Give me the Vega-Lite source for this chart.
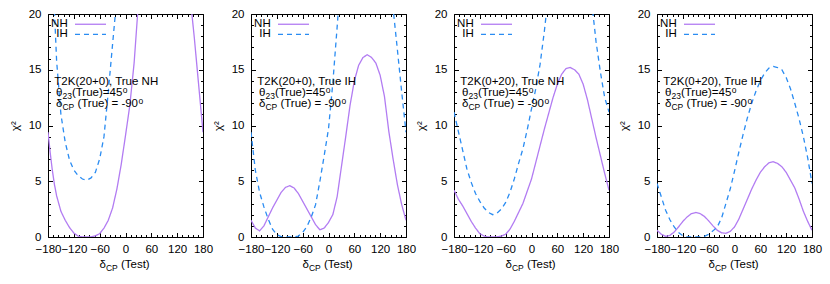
{"$schema":"https://vega.github.io/schema/vega-lite/v6.json","padding":{"left":8,"top":7,"right":5,"bottom":5},"spacing":48,"bounds":"flush",
"config":{"view":{"stroke":"#000","strokeWidth":1},"axis":{"grid":false,"domain":false,"tickColor":"#000","tickWidth":1,"labelColor":"#000","labelFont":"Liberation Sans","labelFontSize":11.5,"titleFont":"Liberation Sans","titleFontSize":11.5,"titleFontWeight":"normal","titleColor":"#000"},"text":{"font":"Liberation Sans","fontSize":11.5,"color":"#000"}},
"datasets":{"curves":[
{"panel":1,"series":"NH","delta":-180,"chi2":9.4},{"panel":1,"series":"NH","delta":-175,"chi2":7.6},{"panel":1,"series":"NH","delta":-170,"chi2":6.0},{"panel":1,"series":"NH","delta":-165,"chi2":4.7},{"panel":1,"series":"NH","delta":-160,"chi2":3.7},{"panel":1,"series":"NH","delta":-150,"chi2":2.3},{"panel":1,"series":"NH","delta":-140,"chi2":1.5},{"panel":1,"series":"NH","delta":-130,"chi2":0.85},{"panel":1,"series":"NH","delta":-120,"chi2":0.35},{"panel":1,"series":"NH","delta":-110,"chi2":0.08},{"panel":1,"series":"NH","delta":-100,"chi2":0},{"panel":1,"series":"NH","delta":-90,"chi2":0},{"panel":1,"series":"NH","delta":-80,"chi2":0.02},{"panel":1,"series":"NH","delta":-70,"chi2":0.1},{"panel":1,"series":"NH","delta":-60,"chi2":0.3},{"panel":1,"series":"NH","delta":-50,"chi2":0.8},{"panel":1,"series":"NH","delta":-40,"chi2":1.5},{"panel":1,"series":"NH","delta":-30,"chi2":2.6},{"panel":1,"series":"NH","delta":-20,"chi2":4.3},{"panel":1,"series":"NH","delta":-10,"chi2":6.5},{"panel":1,"series":"NH","delta":0,"chi2":9.1},{"panel":1,"series":"NH","delta":10,"chi2":11.8},{"panel":1,"series":"NH","delta":20,"chi2":15.6},{"panel":1,"series":"NH","delta":30,"chi2":21},{"panel":1,"series":"NH","delta":40,"chi2":26},{"panel":1,"series":"NH","delta":60,"chi2":33},{"panel":1,"series":"NH","delta":90,"chi2":38},{"panel":1,"series":"NH","delta":120,"chi2":34},{"panel":1,"series":"NH","delta":140,"chi2":25},{"panel":1,"series":"NH","delta":150,"chi2":21.6},{"panel":1,"series":"NH","delta":160,"chi2":17.8},{"panel":1,"series":"NH","delta":170,"chi2":13.6},{"panel":1,"series":"NH","delta":180,"chi2":9.4},
{"panel":1,"series":"IH","delta":-180,"chi2":34},{"panel":1,"series":"IH","delta":-170,"chi2":24},{"panel":1,"series":"IH","delta":-165,"chi2":20.3},{"panel":1,"series":"IH","delta":-160,"chi2":15.8},{"panel":1,"series":"IH","delta":-150,"chi2":11.0},{"panel":1,"series":"IH","delta":-140,"chi2":8.5},{"panel":1,"series":"IH","delta":-130,"chi2":6.9},{"panel":1,"series":"IH","delta":-120,"chi2":6.0},{"panel":1,"series":"IH","delta":-110,"chi2":5.5},{"panel":1,"series":"IH","delta":-100,"chi2":5.2},{"panel":1,"series":"IH","delta":-90,"chi2":5.1},{"panel":1,"series":"IH","delta":-80,"chi2":5.3},{"panel":1,"series":"IH","delta":-70,"chi2":5.8},{"panel":1,"series":"IH","delta":-60,"chi2":7.0},{"panel":1,"series":"IH","delta":-50,"chi2":9.0},{"panel":1,"series":"IH","delta":-40,"chi2":13.0},{"panel":1,"series":"IH","delta":-30,"chi2":17.3},{"panel":1,"series":"IH","delta":-20,"chi2":21.5},{"panel":1,"series":"IH","delta":-10,"chi2":26},{"panel":1,"series":"IH","delta":0,"chi2":31},{"panel":1,"series":"IH","delta":60,"chi2":45},{"panel":1,"series":"IH","delta":120,"chi2":45},{"panel":1,"series":"IH","delta":180,"chi2":34},
{"panel":2,"series":"NH","delta":-180,"chi2":1.5},{"panel":2,"series":"NH","delta":-170,"chi2":0.8},{"panel":2,"series":"NH","delta":-160,"chi2":0.55},{"panel":2,"series":"NH","delta":-150,"chi2":1.0},{"panel":2,"series":"NH","delta":-140,"chi2":1.8},{"panel":2,"series":"NH","delta":-130,"chi2":2.6},{"panel":2,"series":"NH","delta":-120,"chi2":3.3},{"panel":2,"series":"NH","delta":-110,"chi2":4.0},{"panel":2,"series":"NH","delta":-100,"chi2":4.45},{"panel":2,"series":"NH","delta":-90,"chi2":4.6},{"panel":2,"series":"NH","delta":-80,"chi2":4.4},{"panel":2,"series":"NH","delta":-70,"chi2":3.9},{"panel":2,"series":"NH","delta":-60,"chi2":3.2},{"panel":2,"series":"NH","delta":-50,"chi2":2.5},{"panel":2,"series":"NH","delta":-40,"chi2":1.8},{"panel":2,"series":"NH","delta":-30,"chi2":1.1},{"panel":2,"series":"NH","delta":-20,"chi2":0.65},{"panel":2,"series":"NH","delta":-10,"chi2":0.8},{"panel":2,"series":"NH","delta":0,"chi2":1.3},{"panel":2,"series":"NH","delta":10,"chi2":2.0},{"panel":2,"series":"NH","delta":20,"chi2":3.6},{"panel":2,"series":"NH","delta":30,"chi2":6.3},{"panel":2,"series":"NH","delta":40,"chi2":9.0},{"panel":2,"series":"NH","delta":50,"chi2":11.8},{"panel":2,"series":"NH","delta":60,"chi2":14.0},{"panel":2,"series":"NH","delta":70,"chi2":15.4},{"panel":2,"series":"NH","delta":80,"chi2":16.1},{"panel":2,"series":"NH","delta":90,"chi2":16.35},{"panel":2,"series":"NH","delta":100,"chi2":16.1},{"panel":2,"series":"NH","delta":110,"chi2":15.6},{"panel":2,"series":"NH","delta":120,"chi2":14.5},{"panel":2,"series":"NH","delta":130,"chi2":12.6},{"panel":2,"series":"NH","delta":140,"chi2":9.5},{"panel":2,"series":"NH","delta":150,"chi2":7.0},{"panel":2,"series":"NH","delta":160,"chi2":4.7},{"panel":2,"series":"NH","delta":170,"chi2":2.9},{"panel":2,"series":"NH","delta":180,"chi2":1.5},
{"panel":2,"series":"IH","delta":-180,"chi2":9.4},{"panel":2,"series":"IH","delta":-170,"chi2":6.0},{"panel":2,"series":"IH","delta":-160,"chi2":4.0},{"panel":2,"series":"IH","delta":-150,"chi2":2.7},{"panel":2,"series":"IH","delta":-140,"chi2":1.6},{"panel":2,"series":"IH","delta":-130,"chi2":0.7},{"panel":2,"series":"IH","delta":-120,"chi2":0.2},{"panel":2,"series":"IH","delta":-110,"chi2":0.03},{"panel":2,"series":"IH","delta":-100,"chi2":0},{"panel":2,"series":"IH","delta":-90,"chi2":0},{"panel":2,"series":"IH","delta":-80,"chi2":0},{"panel":2,"series":"IH","delta":-70,"chi2":0.08},{"panel":2,"series":"IH","delta":-60,"chi2":0.4},{"panel":2,"series":"IH","delta":-50,"chi2":0.95},{"panel":2,"series":"IH","delta":-40,"chi2":1.8},{"panel":2,"series":"IH","delta":-30,"chi2":2.9},{"panel":2,"series":"IH","delta":-20,"chi2":5.0},{"panel":2,"series":"IH","delta":-10,"chi2":7.3},{"panel":2,"series":"IH","delta":0,"chi2":9.7},{"panel":2,"series":"IH","delta":10,"chi2":13.8},{"panel":2,"series":"IH","delta":20,"chi2":18.8},{"panel":2,"series":"IH","delta":30,"chi2":24},{"panel":2,"series":"IH","delta":40,"chi2":30},{"panel":2,"series":"IH","delta":90,"chi2":45},{"panel":2,"series":"IH","delta":140,"chi2":24},{"panel":2,"series":"IH","delta":150,"chi2":20.5},{"panel":2,"series":"IH","delta":160,"chi2":16.8},{"panel":2,"series":"IH","delta":170,"chi2":13.0},{"panel":2,"series":"IH","delta":180,"chi2":9.4},
{"panel":3,"series":"NH","delta":-180,"chi2":4.2},{"panel":3,"series":"NH","delta":-170,"chi2":3.4},{"panel":3,"series":"NH","delta":-160,"chi2":2.8},{"panel":3,"series":"NH","delta":-150,"chi2":2.1},{"panel":3,"series":"NH","delta":-140,"chi2":1.4},{"panel":3,"series":"NH","delta":-130,"chi2":0.8},{"panel":3,"series":"NH","delta":-120,"chi2":0.3},{"panel":3,"series":"NH","delta":-110,"chi2":0.08},{"panel":3,"series":"NH","delta":-100,"chi2":0},{"panel":3,"series":"NH","delta":-90,"chi2":0},{"panel":3,"series":"NH","delta":-80,"chi2":0.02},{"panel":3,"series":"NH","delta":-70,"chi2":0.08},{"panel":3,"series":"NH","delta":-60,"chi2":0.25},{"panel":3,"series":"NH","delta":-50,"chi2":0.7},{"panel":3,"series":"NH","delta":-40,"chi2":1.4},{"panel":3,"series":"NH","delta":-30,"chi2":2.2},{"panel":3,"series":"NH","delta":-20,"chi2":3.0},{"panel":3,"series":"NH","delta":-10,"chi2":4.1},{"panel":3,"series":"NH","delta":0,"chi2":5.2},{"panel":3,"series":"NH","delta":10,"chi2":6.7},{"panel":3,"series":"NH","delta":20,"chi2":8.2},{"panel":3,"series":"NH","delta":30,"chi2":9.7},{"panel":3,"series":"NH","delta":40,"chi2":11.1},{"panel":3,"series":"NH","delta":50,"chi2":12.5},{"panel":3,"series":"NH","delta":60,"chi2":13.7},{"panel":3,"series":"NH","delta":70,"chi2":14.6},{"panel":3,"series":"NH","delta":80,"chi2":15.1},{"panel":3,"series":"NH","delta":90,"chi2":15.2},{"panel":3,"series":"NH","delta":100,"chi2":15.0},{"panel":3,"series":"NH","delta":110,"chi2":14.6},{"panel":3,"series":"NH","delta":120,"chi2":13.7},{"panel":3,"series":"NH","delta":130,"chi2":12.3},{"panel":3,"series":"NH","delta":140,"chi2":10.6},{"panel":3,"series":"NH","delta":150,"chi2":8.9},{"panel":3,"series":"NH","delta":160,"chi2":7.3},{"panel":3,"series":"NH","delta":170,"chi2":5.7},{"panel":3,"series":"NH","delta":180,"chi2":4.2},
{"panel":3,"series":"IH","delta":-180,"chi2":11.2},{"panel":3,"series":"IH","delta":-170,"chi2":9.5},{"panel":3,"series":"IH","delta":-160,"chi2":7.8},{"panel":3,"series":"IH","delta":-150,"chi2":6.1},{"panel":3,"series":"IH","delta":-140,"chi2":4.9},{"panel":3,"series":"IH","delta":-130,"chi2":3.9},{"panel":3,"series":"IH","delta":-120,"chi2":3.2},{"panel":3,"series":"IH","delta":-110,"chi2":2.6},{"panel":3,"series":"IH","delta":-100,"chi2":2.2},{"panel":3,"series":"IH","delta":-90,"chi2":2.0},{"panel":3,"series":"IH","delta":-80,"chi2":2.15},{"panel":3,"series":"IH","delta":-70,"chi2":2.5},{"panel":3,"series":"IH","delta":-60,"chi2":3.1},{"panel":3,"series":"IH","delta":-50,"chi2":4.0},{"panel":3,"series":"IH","delta":-40,"chi2":5.2},{"panel":3,"series":"IH","delta":-30,"chi2":6.6},{"panel":3,"series":"IH","delta":-20,"chi2":7.9},{"panel":3,"series":"IH","delta":-10,"chi2":9.6},{"panel":3,"series":"IH","delta":0,"chi2":11.5},{"panel":3,"series":"IH","delta":10,"chi2":13.3},{"panel":3,"series":"IH","delta":20,"chi2":15.5},{"panel":3,"series":"IH","delta":30,"chi2":18.5},{"panel":3,"series":"IH","delta":40,"chi2":22},{"panel":3,"series":"IH","delta":90,"chi2":30},{"panel":3,"series":"IH","delta":140,"chi2":21},{"panel":3,"series":"IH","delta":150,"chi2":17.5},{"panel":3,"series":"IH","delta":160,"chi2":14.8},{"panel":3,"series":"IH","delta":170,"chi2":12.5},{"panel":3,"series":"IH","delta":180,"chi2":11.2},
{"panel":4,"series":"NH","delta":-180,"chi2":0.6},{"panel":4,"series":"NH","delta":-170,"chi2":0.25},{"panel":4,"series":"NH","delta":-160,"chi2":0.06},{"panel":4,"series":"NH","delta":-150,"chi2":0.15},{"panel":4,"series":"NH","delta":-140,"chi2":0.45},{"panel":4,"series":"NH","delta":-130,"chi2":0.9},{"panel":4,"series":"NH","delta":-120,"chi2":1.4},{"panel":4,"series":"NH","delta":-110,"chi2":1.8},{"panel":4,"series":"NH","delta":-100,"chi2":2.1},{"panel":4,"series":"NH","delta":-90,"chi2":2.2},{"panel":4,"series":"NH","delta":-80,"chi2":2.1},{"panel":4,"series":"NH","delta":-70,"chi2":1.85},{"panel":4,"series":"NH","delta":-60,"chi2":1.45},{"panel":4,"series":"NH","delta":-50,"chi2":1.0},{"panel":4,"series":"NH","delta":-40,"chi2":0.6},{"panel":4,"series":"NH","delta":-30,"chi2":0.38},{"panel":4,"series":"NH","delta":-20,"chi2":0.33},{"panel":4,"series":"NH","delta":-10,"chi2":0.5},{"panel":4,"series":"NH","delta":0,"chi2":0.9},{"panel":4,"series":"NH","delta":10,"chi2":1.6},{"panel":4,"series":"NH","delta":20,"chi2":2.5},{"panel":4,"series":"NH","delta":30,"chi2":3.4},{"panel":4,"series":"NH","delta":40,"chi2":4.3},{"panel":4,"series":"NH","delta":50,"chi2":5.1},{"panel":4,"series":"NH","delta":60,"chi2":5.8},{"panel":4,"series":"NH","delta":70,"chi2":6.3},{"panel":4,"series":"NH","delta":80,"chi2":6.65},{"panel":4,"series":"NH","delta":90,"chi2":6.75},{"panel":4,"series":"NH","delta":100,"chi2":6.6},{"panel":4,"series":"NH","delta":110,"chi2":6.3},{"panel":4,"series":"NH","delta":120,"chi2":5.8},{"panel":4,"series":"NH","delta":130,"chi2":5.1},{"panel":4,"series":"NH","delta":140,"chi2":4.4},{"panel":4,"series":"NH","delta":150,"chi2":3.4},{"panel":4,"series":"NH","delta":160,"chi2":2.3},{"panel":4,"series":"NH","delta":170,"chi2":1.4},{"panel":4,"series":"NH","delta":180,"chi2":0.6},
{"panel":4,"series":"IH","delta":-180,"chi2":4.8},{"panel":4,"series":"IH","delta":-170,"chi2":3.6},{"panel":4,"series":"IH","delta":-160,"chi2":2.4},{"panel":4,"series":"IH","delta":-150,"chi2":1.55},{"panel":4,"series":"IH","delta":-140,"chi2":0.9},{"panel":4,"series":"IH","delta":-130,"chi2":0.4},{"panel":4,"series":"IH","delta":-120,"chi2":0.1},{"panel":4,"series":"IH","delta":-110,"chi2":0},{"panel":4,"series":"IH","delta":-100,"chi2":0},{"panel":4,"series":"IH","delta":-90,"chi2":0},{"panel":4,"series":"IH","delta":-80,"chi2":0},{"panel":4,"series":"IH","delta":-70,"chi2":0.05},{"panel":4,"series":"IH","delta":-60,"chi2":0.25},{"panel":4,"series":"IH","delta":-50,"chi2":0.55},{"panel":4,"series":"IH","delta":-40,"chi2":0.9},{"panel":4,"series":"IH","delta":-30,"chi2":1.7},{"panel":4,"series":"IH","delta":-20,"chi2":3.0},{"panel":4,"series":"IH","delta":-10,"chi2":4.3},{"panel":4,"series":"IH","delta":0,"chi2":5.9},{"panel":4,"series":"IH","delta":10,"chi2":7.6},{"panel":4,"series":"IH","delta":20,"chi2":9.2},{"panel":4,"series":"IH","delta":30,"chi2":10.7},{"panel":4,"series":"IH","delta":40,"chi2":12.0},{"panel":4,"series":"IH","delta":50,"chi2":13.1},{"panel":4,"series":"IH","delta":60,"chi2":14.0},{"panel":4,"series":"IH","delta":70,"chi2":14.7},{"panel":4,"series":"IH","delta":80,"chi2":15.15},{"panel":4,"series":"IH","delta":90,"chi2":15.3},{"panel":4,"series":"IH","delta":100,"chi2":15.2},{"panel":4,"series":"IH","delta":110,"chi2":15.0},{"panel":4,"series":"IH","delta":120,"chi2":14.3},{"panel":4,"series":"IH","delta":130,"chi2":13.3},{"panel":4,"series":"IH","delta":140,"chi2":12.0},{"panel":4,"series":"IH","delta":150,"chi2":10.6},{"panel":4,"series":"IH","delta":160,"chi2":9.0},{"panel":4,"series":"IH","delta":170,"chi2":7.1},{"panel":4,"series":"IH","delta":180,"chi2":4.8}
]},
"hconcat":[
{"width":155,"height":223,"resolve":{"axis":{"x":"independent","y":"independent"}},"layer":[
{"data":{"name":"curves"},"transform":[{"filter":"datum.panel === 1"}],"mark":{"type":"line","clip":true,"strokeWidth":1.3},"encoding":{"x":{"field":"delta","type":"quantitative","scale":{"domain":[-180,180],"nice":false,"zero":false},"axis":{"orient":"bottom","values":[-180,-120,-60,0,60,120,180],"ticks":false,"labelPadding":6,"labelFlush":false,"labelOverlap":false,"title":null}},"y":{"field":"chi2","type":"quantitative","scale":{"domain":[0,20],"nice":false,"zero":false},"axis":{"orient":"left","values":[0,5,10,15,20],"ticks":false,"labelPadding":7,"labelFlush":false,"labelOverlap":false,"title":"χ²","titleX":-28,"titleBaseline":"bottom","titleAngle":-90}},"color":{"field":"series","type":"nominal","scale":{"domain":["NH","IH"],"range":["#b27cf2","#2a8cf2"]},"legend":null},"strokeDash":{"field":"series","type":"nominal","scale":{"domain":["NH","IH"],"range":[[1,0],[5,4]]},"legend":null}}},
{"data":{"values":[{}]},"mark":{"type":"text","align":"right","baseline":"middle"},"encoding":{"x":{"datum":-134.2,"type":"quantitative","axis":{"orient":"bottom","values":[-180,-120,-60,0,60,120,180],"labels":false,"tickSize":-4.5,"title":null}},"y":{"datum":19.08,"type":"quantitative","axis":{"orient":"left","values":[0,5,10,15,20],"labels":false,"tickSize":-4.5,"title":null}},"text":{"value":"NH"}}},
{"data":{"values":[{}]},"mark":{"type":"text","align":"right","baseline":"middle"},"encoding":{"x":{"datum":-134.2,"type":"quantitative","axis":{"orient":"bottom","values":[-168,-156,-144,-132,-108,-96,-84,-72,-48,-36,-24,-12,12,24,36,48,72,84,96,108,132,144,156,168],"labels":false,"tickSize":-2.5,"title":null}},"y":{"datum":18.18,"type":"quantitative","axis":{"orient":"left","values":[1,2,3,4,6,7,8,9,11,12,13,14,16,17,18,19],"labels":false,"tickSize":-2.5,"title":null}},"text":{"value":"IH"}}},
{"data":{"values":[{}]},"mark":{"type":"rule","color":"#b27cf2","strokeWidth":1.3},"encoding":{"x":{"datum":-117.3,"type":"quantitative","axis":{"orient":"top","values":[-180,-120,-60,0,60,120,180],"labels":false,"tickSize":-4.5,"title":null}},"x2":{"datum":-45.3},"y":{"datum":19.08,"type":"quantitative","axis":{"orient":"right","values":[0,5,10,15,20],"labels":false,"tickSize":-4.5,"title":null}}}},
{"data":{"values":[{}]},"mark":{"type":"rule","color":"#2a8cf2","strokeWidth":1.3,"strokeDash":[5,4]},"encoding":{"x":{"datum":-117.3,"type":"quantitative","axis":{"orient":"top","values":[-168,-156,-144,-132,-108,-96,-84,-72,-48,-36,-24,-12,12,24,36,48,72,84,96,108,132,144,156,168],"labels":false,"tickSize":-2.5,"title":null}},"x2":{"datum":-45.3},"y":{"datum":18.18,"type":"quantitative","axis":{"orient":"right","values":[1,2,3,4,6,7,8,9,11,12,13,14,16,17,18,19],"labels":false,"tickSize":-2.5,"title":null}}}},
{"data":{"values":[{}]},"mark":{"type":"text","align":"left","baseline":"middle"},"encoding":{"x":{"datum":-165.3,"type":"quantitative","axis":null},"y":{"datum":13.9,"type":"quantitative","axis":null},"text":{"value":"T2K(20+0), True NH"}}},
{"data":{"values":[{}]},"mark":{"type":"text","align":"left","baseline":"middle"},"encoding":{"x":{"datum":-161.4,"type":"quantitative","axis":null},"y":{"datum":12.91,"type":"quantitative","axis":null},"text":{"value":"θ"}}},
{"data":{"values":[{}]},"mark":{"type":"text","align":"left","baseline":"middle","fontSize":8.5,"dx":6.4,"dy":3},"encoding":{"x":{"datum":-161.4,"type":"quantitative","axis":null},"y":{"datum":12.91,"type":"quantitative","axis":null},"text":{"value":"23"}}},
{"data":{"values":[{}]},"mark":{"type":"text","align":"left","baseline":"middle","dx":15.9},"encoding":{"x":{"datum":-161.4,"type":"quantitative","axis":null},"y":{"datum":12.91,"type":"quantitative","axis":null},"text":{"value":"(True)=45"}}},
{"data":{"values":[{}]},"mark":{"type":"text","align":"left","baseline":"middle","fontSize":8.5,"dx":66.7,"dy":-3},"encoding":{"x":{"datum":-161.4,"type":"quantitative","axis":null},"y":{"datum":12.91,"type":"quantitative","axis":null},"text":{"value":"o"}}},
{"data":{"values":[{}]},"mark":{"type":"text","align":"left","baseline":"middle"},"encoding":{"x":{"datum":-161.4,"type":"quantitative","axis":null},"y":{"datum":11.97,"type":"quantitative","axis":null},"text":{"value":"δ"}}},
{"data":{"values":[{}]},"mark":{"type":"text","align":"left","baseline":"middle","fontSize":8.5,"dx":6.4,"dy":3},"encoding":{"x":{"datum":-161.4,"type":"quantitative","axis":null},"y":{"datum":11.97,"type":"quantitative","axis":null},"text":{"value":"CP"}}},
{"data":{"values":[{}]},"mark":{"type":"text","align":"left","baseline":"middle","dx":21.4},"encoding":{"x":{"datum":-161.4,"type":"quantitative","axis":null},"y":{"datum":11.97,"type":"quantitative","axis":null},"text":{"value":"(True) = -90"}}},
{"data":{"values":[{}]},"mark":{"type":"text","align":"left","baseline":"middle","fontSize":8.5,"dx":82.4,"dy":-3},"encoding":{"x":{"datum":-161.4,"type":"quantitative","axis":null},"y":{"datum":11.97,"type":"quantitative","axis":null},"text":{"value":"o"}}},
{"data":{"values":[{}]},"mark":{"type":"text","align":"left","baseline":"middle","dx":-26,"dy":28.3},"encoding":{"x":{"datum":0,"type":"quantitative","axis":null},"y":{"datum":0,"type":"quantitative","axis":null},"text":{"value":"δ"}}},
{"data":{"values":[{}]},"mark":{"type":"text","align":"left","baseline":"middle","fontSize":8.5,"dx":-19.6,"dy":31.3},"encoding":{"x":{"datum":0,"type":"quantitative","axis":null},"y":{"datum":0,"type":"quantitative","axis":null},"text":{"value":"CP"}}},
{"data":{"values":[{}]},"mark":{"type":"text","align":"left","baseline":"middle","dx":-4.6,"dy":28.3},"encoding":{"x":{"datum":0,"type":"quantitative","axis":null},"y":{"datum":0,"type":"quantitative","axis":null},"text":{"value":"(Test)"}}}
]},
{"width":155,"height":223,"resolve":{"axis":{"x":"independent","y":"independent"}},"layer":[
{"data":{"name":"curves"},"transform":[{"filter":"datum.panel === 2"}],"mark":{"type":"line","clip":true,"strokeWidth":1.3},"encoding":{"x":{"field":"delta","type":"quantitative","scale":{"domain":[-180,180],"nice":false,"zero":false},"axis":{"orient":"bottom","values":[-180,-120,-60,0,60,120,180],"ticks":false,"labelPadding":6,"labelFlush":false,"labelOverlap":false,"title":null}},"y":{"field":"chi2","type":"quantitative","scale":{"domain":[0,20],"nice":false,"zero":false},"axis":{"orient":"left","values":[0,5,10,15,20],"ticks":false,"labelPadding":7,"labelFlush":false,"labelOverlap":false,"title":"χ²","titleX":-28,"titleBaseline":"bottom","titleAngle":-90}},"color":{"field":"series","type":"nominal","scale":{"domain":["NH","IH"],"range":["#b27cf2","#2a8cf2"]},"legend":null},"strokeDash":{"field":"series","type":"nominal","scale":{"domain":["NH","IH"],"range":[[1,0],[5,4]]},"legend":null}}},
{"data":{"values":[{}]},"mark":{"type":"text","align":"right","baseline":"middle"},"encoding":{"x":{"datum":-134.2,"type":"quantitative","axis":{"orient":"bottom","values":[-180,-120,-60,0,60,120,180],"labels":false,"tickSize":-4.5,"title":null}},"y":{"datum":19.08,"type":"quantitative","axis":{"orient":"left","values":[0,5,10,15,20],"labels":false,"tickSize":-4.5,"title":null}},"text":{"value":"NH"}}},
{"data":{"values":[{}]},"mark":{"type":"text","align":"right","baseline":"middle"},"encoding":{"x":{"datum":-134.2,"type":"quantitative","axis":{"orient":"bottom","values":[-168,-156,-144,-132,-108,-96,-84,-72,-48,-36,-24,-12,12,24,36,48,72,84,96,108,132,144,156,168],"labels":false,"tickSize":-2.5,"title":null}},"y":{"datum":18.18,"type":"quantitative","axis":{"orient":"left","values":[1,2,3,4,6,7,8,9,11,12,13,14,16,17,18,19],"labels":false,"tickSize":-2.5,"title":null}},"text":{"value":"IH"}}},
{"data":{"values":[{}]},"mark":{"type":"rule","color":"#b27cf2","strokeWidth":1.3},"encoding":{"x":{"datum":-117.3,"type":"quantitative","axis":{"orient":"top","values":[-180,-120,-60,0,60,120,180],"labels":false,"tickSize":-4.5,"title":null}},"x2":{"datum":-45.3},"y":{"datum":19.08,"type":"quantitative","axis":{"orient":"right","values":[0,5,10,15,20],"labels":false,"tickSize":-4.5,"title":null}}}},
{"data":{"values":[{}]},"mark":{"type":"rule","color":"#2a8cf2","strokeWidth":1.3,"strokeDash":[5,4]},"encoding":{"x":{"datum":-117.3,"type":"quantitative","axis":{"orient":"top","values":[-168,-156,-144,-132,-108,-96,-84,-72,-48,-36,-24,-12,12,24,36,48,72,84,96,108,132,144,156,168],"labels":false,"tickSize":-2.5,"title":null}},"x2":{"datum":-45.3},"y":{"datum":18.18,"type":"quantitative","axis":{"orient":"right","values":[1,2,3,4,6,7,8,9,11,12,13,14,16,17,18,19],"labels":false,"tickSize":-2.5,"title":null}}}},
{"data":{"values":[{}]},"mark":{"type":"text","align":"left","baseline":"middle"},"encoding":{"x":{"datum":-165.3,"type":"quantitative","axis":null},"y":{"datum":13.9,"type":"quantitative","axis":null},"text":{"value":"T2K(20+0), True IH"}}},
{"data":{"values":[{}]},"mark":{"type":"text","align":"left","baseline":"middle"},"encoding":{"x":{"datum":-161.4,"type":"quantitative","axis":null},"y":{"datum":12.91,"type":"quantitative","axis":null},"text":{"value":"θ"}}},
{"data":{"values":[{}]},"mark":{"type":"text","align":"left","baseline":"middle","fontSize":8.5,"dx":6.4,"dy":3},"encoding":{"x":{"datum":-161.4,"type":"quantitative","axis":null},"y":{"datum":12.91,"type":"quantitative","axis":null},"text":{"value":"23"}}},
{"data":{"values":[{}]},"mark":{"type":"text","align":"left","baseline":"middle","dx":15.9},"encoding":{"x":{"datum":-161.4,"type":"quantitative","axis":null},"y":{"datum":12.91,"type":"quantitative","axis":null},"text":{"value":"(True)=45"}}},
{"data":{"values":[{}]},"mark":{"type":"text","align":"left","baseline":"middle","fontSize":8.5,"dx":66.7,"dy":-3},"encoding":{"x":{"datum":-161.4,"type":"quantitative","axis":null},"y":{"datum":12.91,"type":"quantitative","axis":null},"text":{"value":"o"}}},
{"data":{"values":[{}]},"mark":{"type":"text","align":"left","baseline":"middle"},"encoding":{"x":{"datum":-161.4,"type":"quantitative","axis":null},"y":{"datum":11.97,"type":"quantitative","axis":null},"text":{"value":"δ"}}},
{"data":{"values":[{}]},"mark":{"type":"text","align":"left","baseline":"middle","fontSize":8.5,"dx":6.4,"dy":3},"encoding":{"x":{"datum":-161.4,"type":"quantitative","axis":null},"y":{"datum":11.97,"type":"quantitative","axis":null},"text":{"value":"CP"}}},
{"data":{"values":[{}]},"mark":{"type":"text","align":"left","baseline":"middle","dx":21.4},"encoding":{"x":{"datum":-161.4,"type":"quantitative","axis":null},"y":{"datum":11.97,"type":"quantitative","axis":null},"text":{"value":"(True) = -90"}}},
{"data":{"values":[{}]},"mark":{"type":"text","align":"left","baseline":"middle","fontSize":8.5,"dx":82.4,"dy":-3},"encoding":{"x":{"datum":-161.4,"type":"quantitative","axis":null},"y":{"datum":11.97,"type":"quantitative","axis":null},"text":{"value":"o"}}},
{"data":{"values":[{}]},"mark":{"type":"text","align":"left","baseline":"middle","dx":-26,"dy":28.3},"encoding":{"x":{"datum":0,"type":"quantitative","axis":null},"y":{"datum":0,"type":"quantitative","axis":null},"text":{"value":"δ"}}},
{"data":{"values":[{}]},"mark":{"type":"text","align":"left","baseline":"middle","fontSize":8.5,"dx":-19.6,"dy":31.3},"encoding":{"x":{"datum":0,"type":"quantitative","axis":null},"y":{"datum":0,"type":"quantitative","axis":null},"text":{"value":"CP"}}},
{"data":{"values":[{}]},"mark":{"type":"text","align":"left","baseline":"middle","dx":-4.6,"dy":28.3},"encoding":{"x":{"datum":0,"type":"quantitative","axis":null},"y":{"datum":0,"type":"quantitative","axis":null},"text":{"value":"(Test)"}}}
]},
{"width":155,"height":223,"resolve":{"axis":{"x":"independent","y":"independent"}},"layer":[
{"data":{"name":"curves"},"transform":[{"filter":"datum.panel === 3"}],"mark":{"type":"line","clip":true,"strokeWidth":1.3},"encoding":{"x":{"field":"delta","type":"quantitative","scale":{"domain":[-180,180],"nice":false,"zero":false},"axis":{"orient":"bottom","values":[-180,-120,-60,0,60,120,180],"ticks":false,"labelPadding":6,"labelFlush":false,"labelOverlap":false,"title":null}},"y":{"field":"chi2","type":"quantitative","scale":{"domain":[0,20],"nice":false,"zero":false},"axis":{"orient":"left","values":[0,5,10,15,20],"ticks":false,"labelPadding":7,"labelFlush":false,"labelOverlap":false,"title":"χ²","titleX":-28,"titleBaseline":"bottom","titleAngle":-90}},"color":{"field":"series","type":"nominal","scale":{"domain":["NH","IH"],"range":["#b27cf2","#2a8cf2"]},"legend":null},"strokeDash":{"field":"series","type":"nominal","scale":{"domain":["NH","IH"],"range":[[1,0],[5,4]]},"legend":null}}},
{"data":{"values":[{}]},"mark":{"type":"text","align":"right","baseline":"middle"},"encoding":{"x":{"datum":-134.2,"type":"quantitative","axis":{"orient":"bottom","values":[-180,-120,-60,0,60,120,180],"labels":false,"tickSize":-4.5,"title":null}},"y":{"datum":19.08,"type":"quantitative","axis":{"orient":"left","values":[0,5,10,15,20],"labels":false,"tickSize":-4.5,"title":null}},"text":{"value":"NH"}}},
{"data":{"values":[{}]},"mark":{"type":"text","align":"right","baseline":"middle"},"encoding":{"x":{"datum":-134.2,"type":"quantitative","axis":{"orient":"bottom","values":[-168,-156,-144,-132,-108,-96,-84,-72,-48,-36,-24,-12,12,24,36,48,72,84,96,108,132,144,156,168],"labels":false,"tickSize":-2.5,"title":null}},"y":{"datum":18.18,"type":"quantitative","axis":{"orient":"left","values":[1,2,3,4,6,7,8,9,11,12,13,14,16,17,18,19],"labels":false,"tickSize":-2.5,"title":null}},"text":{"value":"IH"}}},
{"data":{"values":[{}]},"mark":{"type":"rule","color":"#b27cf2","strokeWidth":1.3},"encoding":{"x":{"datum":-117.3,"type":"quantitative","axis":{"orient":"top","values":[-180,-120,-60,0,60,120,180],"labels":false,"tickSize":-4.5,"title":null}},"x2":{"datum":-45.3},"y":{"datum":19.08,"type":"quantitative","axis":{"orient":"right","values":[0,5,10,15,20],"labels":false,"tickSize":-4.5,"title":null}}}},
{"data":{"values":[{}]},"mark":{"type":"rule","color":"#2a8cf2","strokeWidth":1.3,"strokeDash":[5,4]},"encoding":{"x":{"datum":-117.3,"type":"quantitative","axis":{"orient":"top","values":[-168,-156,-144,-132,-108,-96,-84,-72,-48,-36,-24,-12,12,24,36,48,72,84,96,108,132,144,156,168],"labels":false,"tickSize":-2.5,"title":null}},"x2":{"datum":-45.3},"y":{"datum":18.18,"type":"quantitative","axis":{"orient":"right","values":[1,2,3,4,6,7,8,9,11,12,13,14,16,17,18,19],"labels":false,"tickSize":-2.5,"title":null}}}},
{"data":{"values":[{}]},"mark":{"type":"text","align":"left","baseline":"middle"},"encoding":{"x":{"datum":-165.3,"type":"quantitative","axis":null},"y":{"datum":13.9,"type":"quantitative","axis":null},"text":{"value":"T2K(0+20), True NH"}}},
{"data":{"values":[{}]},"mark":{"type":"text","align":"left","baseline":"middle"},"encoding":{"x":{"datum":-161.4,"type":"quantitative","axis":null},"y":{"datum":12.91,"type":"quantitative","axis":null},"text":{"value":"θ"}}},
{"data":{"values":[{}]},"mark":{"type":"text","align":"left","baseline":"middle","fontSize":8.5,"dx":6.4,"dy":3},"encoding":{"x":{"datum":-161.4,"type":"quantitative","axis":null},"y":{"datum":12.91,"type":"quantitative","axis":null},"text":{"value":"23"}}},
{"data":{"values":[{}]},"mark":{"type":"text","align":"left","baseline":"middle","dx":15.9},"encoding":{"x":{"datum":-161.4,"type":"quantitative","axis":null},"y":{"datum":12.91,"type":"quantitative","axis":null},"text":{"value":"(True)=45"}}},
{"data":{"values":[{}]},"mark":{"type":"text","align":"left","baseline":"middle","fontSize":8.5,"dx":66.7,"dy":-3},"encoding":{"x":{"datum":-161.4,"type":"quantitative","axis":null},"y":{"datum":12.91,"type":"quantitative","axis":null},"text":{"value":"o"}}},
{"data":{"values":[{}]},"mark":{"type":"text","align":"left","baseline":"middle"},"encoding":{"x":{"datum":-161.4,"type":"quantitative","axis":null},"y":{"datum":11.97,"type":"quantitative","axis":null},"text":{"value":"δ"}}},
{"data":{"values":[{}]},"mark":{"type":"text","align":"left","baseline":"middle","fontSize":8.5,"dx":6.4,"dy":3},"encoding":{"x":{"datum":-161.4,"type":"quantitative","axis":null},"y":{"datum":11.97,"type":"quantitative","axis":null},"text":{"value":"CP"}}},
{"data":{"values":[{}]},"mark":{"type":"text","align":"left","baseline":"middle","dx":21.4},"encoding":{"x":{"datum":-161.4,"type":"quantitative","axis":null},"y":{"datum":11.97,"type":"quantitative","axis":null},"text":{"value":"(True) = -90"}}},
{"data":{"values":[{}]},"mark":{"type":"text","align":"left","baseline":"middle","fontSize":8.5,"dx":82.4,"dy":-3},"encoding":{"x":{"datum":-161.4,"type":"quantitative","axis":null},"y":{"datum":11.97,"type":"quantitative","axis":null},"text":{"value":"o"}}},
{"data":{"values":[{}]},"mark":{"type":"text","align":"left","baseline":"middle","dx":-26,"dy":28.3},"encoding":{"x":{"datum":0,"type":"quantitative","axis":null},"y":{"datum":0,"type":"quantitative","axis":null},"text":{"value":"δ"}}},
{"data":{"values":[{}]},"mark":{"type":"text","align":"left","baseline":"middle","fontSize":8.5,"dx":-19.6,"dy":31.3},"encoding":{"x":{"datum":0,"type":"quantitative","axis":null},"y":{"datum":0,"type":"quantitative","axis":null},"text":{"value":"CP"}}},
{"data":{"values":[{}]},"mark":{"type":"text","align":"left","baseline":"middle","dx":-4.6,"dy":28.3},"encoding":{"x":{"datum":0,"type":"quantitative","axis":null},"y":{"datum":0,"type":"quantitative","axis":null},"text":{"value":"(Test)"}}}
]},
{"width":155,"height":223,"resolve":{"axis":{"x":"independent","y":"independent"}},"layer":[
{"data":{"name":"curves"},"transform":[{"filter":"datum.panel === 4"}],"mark":{"type":"line","clip":true,"strokeWidth":1.3},"encoding":{"x":{"field":"delta","type":"quantitative","scale":{"domain":[-180,180],"nice":false,"zero":false},"axis":{"orient":"bottom","values":[-180,-120,-60,0,60,120,180],"ticks":false,"labelPadding":6,"labelFlush":false,"labelOverlap":false,"title":null}},"y":{"field":"chi2","type":"quantitative","scale":{"domain":[0,20],"nice":false,"zero":false},"axis":{"orient":"left","values":[0,5,10,15,20],"ticks":false,"labelPadding":7,"labelFlush":false,"labelOverlap":false,"title":"χ²","titleX":-28,"titleBaseline":"bottom","titleAngle":-90}},"color":{"field":"series","type":"nominal","scale":{"domain":["NH","IH"],"range":["#b27cf2","#2a8cf2"]},"legend":null},"strokeDash":{"field":"series","type":"nominal","scale":{"domain":["NH","IH"],"range":[[1,0],[5,4]]},"legend":null}}},
{"data":{"values":[{}]},"mark":{"type":"text","align":"right","baseline":"middle"},"encoding":{"x":{"datum":-134.2,"type":"quantitative","axis":{"orient":"bottom","values":[-180,-120,-60,0,60,120,180],"labels":false,"tickSize":-4.5,"title":null}},"y":{"datum":19.08,"type":"quantitative","axis":{"orient":"left","values":[0,5,10,15,20],"labels":false,"tickSize":-4.5,"title":null}},"text":{"value":"NH"}}},
{"data":{"values":[{}]},"mark":{"type":"text","align":"right","baseline":"middle"},"encoding":{"x":{"datum":-134.2,"type":"quantitative","axis":{"orient":"bottom","values":[-168,-156,-144,-132,-108,-96,-84,-72,-48,-36,-24,-12,12,24,36,48,72,84,96,108,132,144,156,168],"labels":false,"tickSize":-2.5,"title":null}},"y":{"datum":18.18,"type":"quantitative","axis":{"orient":"left","values":[1,2,3,4,6,7,8,9,11,12,13,14,16,17,18,19],"labels":false,"tickSize":-2.5,"title":null}},"text":{"value":"IH"}}},
{"data":{"values":[{}]},"mark":{"type":"rule","color":"#b27cf2","strokeWidth":1.3},"encoding":{"x":{"datum":-117.3,"type":"quantitative","axis":{"orient":"top","values":[-180,-120,-60,0,60,120,180],"labels":false,"tickSize":-4.5,"title":null}},"x2":{"datum":-45.3},"y":{"datum":19.08,"type":"quantitative","axis":{"orient":"right","values":[0,5,10,15,20],"labels":false,"tickSize":-4.5,"title":null}}}},
{"data":{"values":[{}]},"mark":{"type":"rule","color":"#2a8cf2","strokeWidth":1.3,"strokeDash":[5,4]},"encoding":{"x":{"datum":-117.3,"type":"quantitative","axis":{"orient":"top","values":[-168,-156,-144,-132,-108,-96,-84,-72,-48,-36,-24,-12,12,24,36,48,72,84,96,108,132,144,156,168],"labels":false,"tickSize":-2.5,"title":null}},"x2":{"datum":-45.3},"y":{"datum":18.18,"type":"quantitative","axis":{"orient":"right","values":[1,2,3,4,6,7,8,9,11,12,13,14,16,17,18,19],"labels":false,"tickSize":-2.5,"title":null}}}},
{"data":{"values":[{}]},"mark":{"type":"text","align":"left","baseline":"middle"},"encoding":{"x":{"datum":-165.3,"type":"quantitative","axis":null},"y":{"datum":13.9,"type":"quantitative","axis":null},"text":{"value":"T2K(0+20), True IH"}}},
{"data":{"values":[{}]},"mark":{"type":"text","align":"left","baseline":"middle"},"encoding":{"x":{"datum":-161.4,"type":"quantitative","axis":null},"y":{"datum":12.91,"type":"quantitative","axis":null},"text":{"value":"θ"}}},
{"data":{"values":[{}]},"mark":{"type":"text","align":"left","baseline":"middle","fontSize":8.5,"dx":6.4,"dy":3},"encoding":{"x":{"datum":-161.4,"type":"quantitative","axis":null},"y":{"datum":12.91,"type":"quantitative","axis":null},"text":{"value":"23"}}},
{"data":{"values":[{}]},"mark":{"type":"text","align":"left","baseline":"middle","dx":15.9},"encoding":{"x":{"datum":-161.4,"type":"quantitative","axis":null},"y":{"datum":12.91,"type":"quantitative","axis":null},"text":{"value":"(True)=45"}}},
{"data":{"values":[{}]},"mark":{"type":"text","align":"left","baseline":"middle","fontSize":8.5,"dx":66.7,"dy":-3},"encoding":{"x":{"datum":-161.4,"type":"quantitative","axis":null},"y":{"datum":12.91,"type":"quantitative","axis":null},"text":{"value":"o"}}},
{"data":{"values":[{}]},"mark":{"type":"text","align":"left","baseline":"middle"},"encoding":{"x":{"datum":-161.4,"type":"quantitative","axis":null},"y":{"datum":11.97,"type":"quantitative","axis":null},"text":{"value":"δ"}}},
{"data":{"values":[{}]},"mark":{"type":"text","align":"left","baseline":"middle","fontSize":8.5,"dx":6.4,"dy":3},"encoding":{"x":{"datum":-161.4,"type":"quantitative","axis":null},"y":{"datum":11.97,"type":"quantitative","axis":null},"text":{"value":"CP"}}},
{"data":{"values":[{}]},"mark":{"type":"text","align":"left","baseline":"middle","dx":21.4},"encoding":{"x":{"datum":-161.4,"type":"quantitative","axis":null},"y":{"datum":11.97,"type":"quantitative","axis":null},"text":{"value":"(True) = -90"}}},
{"data":{"values":[{}]},"mark":{"type":"text","align":"left","baseline":"middle","fontSize":8.5,"dx":82.4,"dy":-3},"encoding":{"x":{"datum":-161.4,"type":"quantitative","axis":null},"y":{"datum":11.97,"type":"quantitative","axis":null},"text":{"value":"o"}}},
{"data":{"values":[{}]},"mark":{"type":"text","align":"left","baseline":"middle","dx":-26,"dy":28.3},"encoding":{"x":{"datum":0,"type":"quantitative","axis":null},"y":{"datum":0,"type":"quantitative","axis":null},"text":{"value":"δ"}}},
{"data":{"values":[{}]},"mark":{"type":"text","align":"left","baseline":"middle","fontSize":8.5,"dx":-19.6,"dy":31.3},"encoding":{"x":{"datum":0,"type":"quantitative","axis":null},"y":{"datum":0,"type":"quantitative","axis":null},"text":{"value":"CP"}}},
{"data":{"values":[{}]},"mark":{"type":"text","align":"left","baseline":"middle","dx":-4.6,"dy":28.3},"encoding":{"x":{"datum":0,"type":"quantitative","axis":null},"y":{"datum":0,"type":"quantitative","axis":null},"text":{"value":"(Test)"}}}
]}
]}
